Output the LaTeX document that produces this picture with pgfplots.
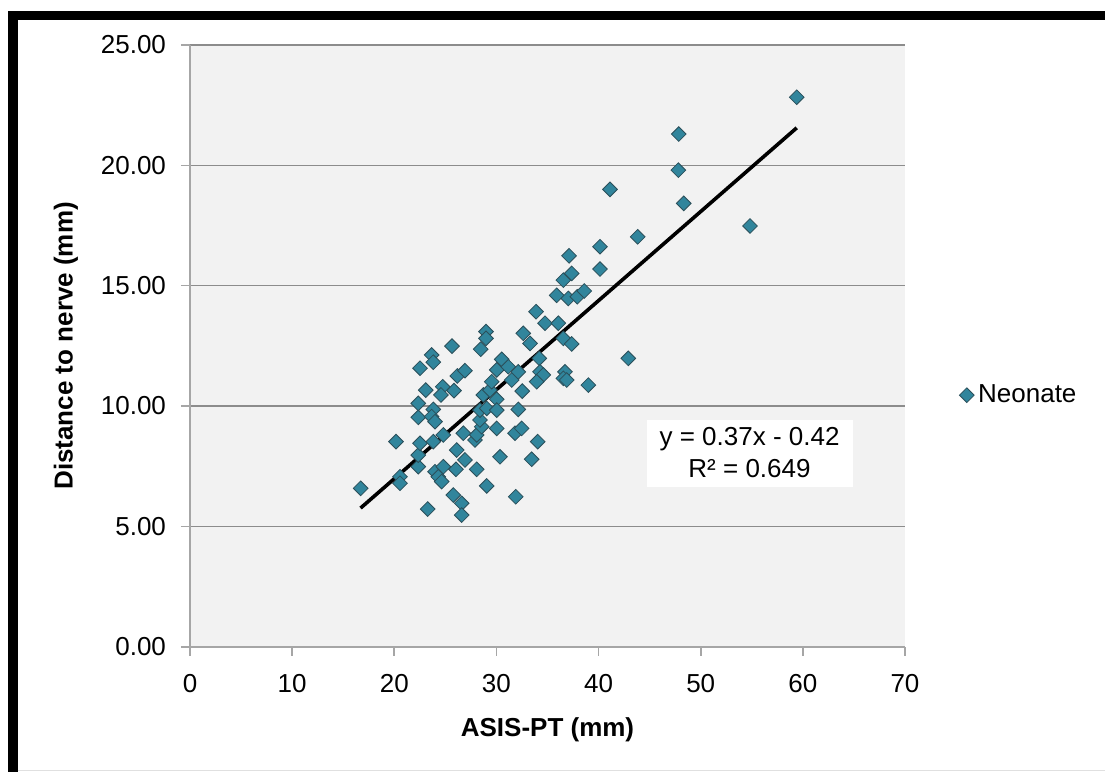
\documentclass[border=0pt]{standalone}
\usepackage{fontspec}
\setmainfont{Liberation Sans}
\usepackage{pgfplots}
\usepackage{pgfplotstable}
\pgfplotsset{compat=1.18}
\usetikzlibrary{calc}
\definecolor{plotbg}{HTML}{F2F2F2}
\definecolor{gridgray}{HTML}{8C8C8C}
\definecolor{axisgray}{HTML}{A6A6A6}
\definecolor{teal}{HTML}{31859C}
\definecolor{tealedge}{HTML}{2B4F5A}
\pgfplotstableread{
x y
16.71 6.58
20.17 8.52
20.56 7.06
20.56 6.79
22.35 7.48
22.35 7.96
22.52 8.45
22.35 9.53
22.35 10.11
22.52 11.57
23.08 10.66
23.66 12.12
23.82 11.82
23.82 9.86
23.66 9.56
23.99 9.35
23.82 8.52
23.99 7.27
24.31 7.06
24.64 6.86
24.80 7.48
24.80 8.80
24.74 10.80
24.57 10.46
25.65 12.49
25.85 10.64
26.17 11.25
26.92 11.47
26.11 8.17
26.92 7.76
26.04 7.37
25.78 6.30
26.60 5.96
26.60 5.47
23.27 5.72
26.76 8.87
27.90 8.59
28.07 7.37
29.05 6.68
30.35 7.89
28.07 8.80
28.56 9.14
28.39 9.42
28.39 9.83
29.05 9.90
28.72 10.46
29.37 10.66
29.54 11.01
30.03 11.50
30.52 11.94
30.03 10.28
30.03 9.83
30.03 9.07
28.46 12.36
28.98 13.09
28.98 12.81
31.16 11.63
31.50 11.08
32.14 11.42
32.53 10.62
32.14 9.86
31.82 8.87
32.47 9.07
34.04 8.52
33.45 7.79
31.89 6.23
32.63 13.02
33.29 12.60
33.88 13.92
34.76 13.44
36.06 13.44
36.55 12.81
37.37 12.58
34.20 11.98
34.27 11.42
34.59 11.29
33.94 11.01
36.71 11.42
36.55 11.15
36.88 11.08
39.00 10.87
42.91 11.98
35.90 14.60
37.04 14.47
37.92 14.54
38.60 14.78
36.55 15.23
37.37 15.51
37.11 16.24
40.14 15.69
40.14 16.62
41.12 19.00
43.83 17.03
47.81 19.80
47.85 21.30
48.34 18.42
54.83 17.48
59.40 22.83
}\neonate
\begin{document}
\begin{tikzpicture}
\begin{axis}[
  scale only axis, width=357.5pt, height=300.85pt,
  xmin=0, xmax=70, ymin=0, ymax=25,
  xtick={0,10,...,70}, ytick={0,5,...,25},
  axis background/.style={fill=plotbg},
  axis x line*=bottom, axis y line*=left,
  axis line style={draw=axisgray, line width=0.8pt, -},
  tick style={draw=axisgray, line width=0.8pt},
  tick align=outside, major tick length=4.5pt,
  ymajorgrids, grid style={draw=gridgray, line width=0.6pt},
  /pgf/number format/assume math mode=true,
  tick label style={font=\fontsize{13}{15}\selectfont, text=black},
  yticklabel style={xshift=-4pt, /pgf/number format/.cd, fixed, fixed zerofill, precision=2},
  xticklabel style={yshift=-6pt},
  every axis x label/.style={at={([yshift=-41.6pt]axis description cs:0.5,0)}, anchor=center},
  every axis y label/.style={at={([xshift=-62pt]axis description cs:0,0.5)}, rotate=90, anchor=center},
  label style={font=\fontsize{13}{15}\selectfont\bfseries},
  xlabel={ASIS-PT (mm)},
  ylabel={Distance to nerve (mm)},
  legend style={at={([xshift=2pt]axis description cs:1.07,0.418)}, anchor=west, draw=none, fill=none,
    font=\fontsize{13}{15}\selectfont, inner sep=0pt},
  legend image code/.code={\draw[#1] plot coordinates {(0.12cm,0cm)};},
]
\coordinate (O) at (rel axis cs:0,0);
\addplot[only marks, mark=square*, mark size=2.6pt,
  mark options={rotate=45, fill=teal, draw=tealedge, line width=0.4pt}]
  table[x=x,y=y]{\neonate};
\addlegendentry{Neonate}
\addplot[black, line width=1.8pt, forget plot] coordinates {(16.7,5.759) (59.4,21.558)};
\fill[white] (axis cs:44.71,6.65) rectangle (axis cs:64.91,9.42);
\node[font=\fontsize{13}{15}\selectfont] at (axis cs:54.78,8.61) {y = 0.37x - 0.42};
\node[font=\fontsize{13}{15}\selectfont] at (axis cs:54.78,7.40) {R² = 0.649};
\end{axis}
\pgfresetboundingbox
\coordinate (BL) at ($(O)+(-95pt,-62.65pt)$);
\path[use as bounding box] (BL) rectangle ++(552.5pt,386pt);
\fill[black] ($(BL)+(4pt,0pt)$) rectangle ($(BL)+(9pt,380.5pt)$);
\fill[black] ($(BL)+(4pt,376pt)$) rectangle ($(BL)+(552.5pt,380.5pt)$);
\draw[black!12, line width=0.8pt] ($(BL)+(9pt,0.65pt)$) -- ($(BL)+(552.5pt,0.65pt)$);
\end{tikzpicture}
\end{document}
